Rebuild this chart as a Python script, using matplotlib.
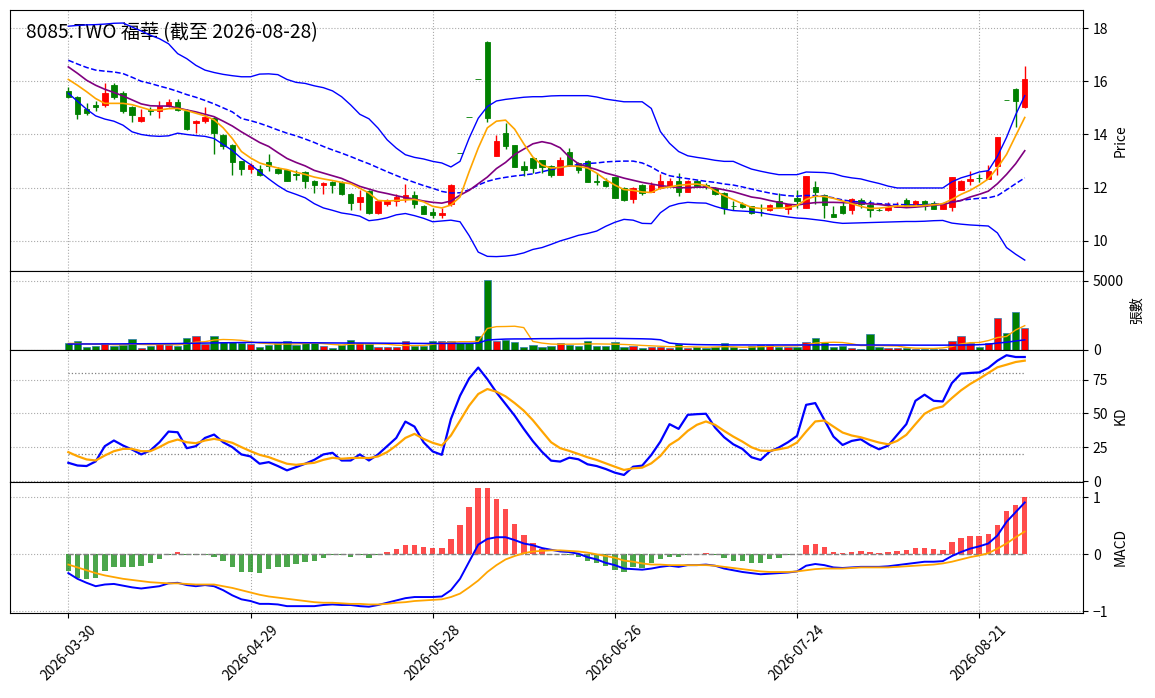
import numpy as np
import matplotlib
matplotlib.use("Agg")
import matplotlib.pyplot as plt

plt.rcParams['font.family'] = ['Noto Sans CJK TC', 'DejaVu Sans']

title = "8085.TWO 福華 (截至 2026-08-28)"
tick_pos = [0, 20, 40, 60, 80, 100]
tick_labels = ["2026-03-30", "2026-04-29", "2026-05-28", "2026-06-26", "2026-07-24", "2026-08-21"]

opens = [15.64, 15.41, 14.96, 15.12, 15.10, 15.87, 15.57, 15.03, 14.50, 14.92,
         14.90, 15.08, 15.23, 14.90, 14.45, 14.49, 14.61, 13.99, 13.61, 12.99,
         12.70, 12.69, 12.95, 12.72, 12.68, 12.50, 12.58, 12.27, 12.12, 12.21,
         12.21, 11.78, 11.47, 11.89, 11.06, 11.37, 11.49, 11.61, 11.74, 11.31,
         11.08, 10.99, 11.37, 13.31, 14.64, 16.10, 17.48, 13.21, 14.05, 13.59,
         12.80, 13.12, 13.03, 12.83, 12.49, 13.33, 12.93, 13.00, 12.24, 12.24,
         12.40, 11.99, 11.58, 12.12, 11.84, 12.00, 12.05, 12.27, 11.84, 12.24,
         12.12, 11.99, 11.81, 11.32, 11.40, 11.31, 11.09, 11.15, 11.50, 11.21,
         11.62, 11.24, 12.02, 11.74, 11.01, 11.31, 11.18, 11.52, 11.35, 11.17,
         11.16, 11.29, 11.53, 11.37, 11.50, 11.43, 11.21, 11.28, 11.93, 12.24,
         12.38, 12.33, 12.82, 15.29, 15.71, 15.02]
closes = [15.40, 14.77, 14.80, 15.02, 15.57, 15.40, 14.90, 14.72, 14.66, 14.88,
          15.07, 15.23, 14.91, 14.20, 14.52, 14.64, 14.05, 13.55, 12.97, 12.70,
          12.87, 12.49, 12.83, 12.55, 12.27, 12.48, 12.27, 12.12, 12.18, 12.12,
          11.77, 11.43, 11.64, 11.06, 11.49, 11.52, 11.64, 11.74, 11.37, 11.03,
          10.99, 11.06, 12.12, 13.31, 14.64, 16.10, 14.62, 13.76, 13.55, 12.78,
          12.65, 12.74, 12.78, 12.49, 13.03, 12.84, 12.68, 12.22, 12.22, 12.06,
          11.62, 11.52, 11.99, 11.80, 12.09, 12.27, 12.27, 11.84, 12.27, 12.05,
          12.05, 11.77, 11.25, 11.30, 11.28, 11.06, 11.07, 11.35, 11.28, 11.37,
          11.50, 12.43, 11.84, 11.34, 10.91, 11.06, 11.56, 11.37, 11.15, 11.15,
          11.27, 11.31, 11.32, 11.50, 11.31, 11.21, 11.37, 12.39, 12.27, 12.34,
          12.36, 12.64, 13.90, 15.29, 15.26, 16.08]
highs = [15.79, 15.45, 15.17, 15.26, 15.94, 15.93, 15.65, 15.08, 14.96, 15.05,
         15.25, 15.33, 15.33, 14.95, 14.55, 15.05, 14.66, 14.02, 13.65, 13.00,
         12.92, 12.87, 13.26, 12.78, 12.72, 12.68, 12.62, 12.30, 12.22, 12.24,
         12.25, 11.80, 11.93, 11.92, 11.52, 11.58, 11.77, 12.14, 11.86, 11.34,
         11.24, 11.24, 12.15, 13.31, 14.64, 16.10, 17.50, 13.99, 14.42, 13.62,
         13.01, 13.15, 13.06, 12.86, 13.16, 13.49, 12.96, 13.03, 12.55, 12.37,
         12.42, 12.01, 12.02, 12.14, 12.21, 12.52, 12.37, 12.55, 12.30, 12.30,
         12.18, 12.02, 11.84, 11.50, 11.47, 11.33, 11.37, 11.37, 11.81, 11.40,
         11.93, 12.45, 12.27, 11.76, 11.31, 11.50, 11.60, 11.60, 11.52, 11.25,
         11.47, 11.45, 11.60, 11.53, 11.52, 11.50, 11.39, 12.42, 12.30, 12.64,
         12.50, 12.84, 13.92, 15.29, 15.76, 16.58]
lows = [15.36, 14.59, 14.75, 14.90, 15.05, 15.35, 14.80, 14.48, 14.48, 14.74,
        14.62, 15.05, 14.88, 14.18, 14.05, 14.45, 13.28, 13.46, 12.49, 12.49,
        12.55, 12.45, 12.64, 12.50, 12.24, 12.30, 11.99, 11.80, 11.77, 11.80,
        11.74, 11.18, 11.18, 11.03, 11.03, 11.33, 11.30, 11.46, 11.25, 11.00,
        10.87, 10.87, 11.33, 13.31, 14.64, 16.10, 14.46, 13.19, 13.46, 12.76,
        12.43, 12.55, 12.55, 12.41, 12.47, 12.82, 12.55, 12.20, 12.09, 12.03,
        11.60, 11.50, 11.43, 11.71, 11.82, 11.97, 12.03, 11.68, 11.82, 12.03,
        11.95, 11.72, 11.03, 11.15, 11.25, 11.03, 10.93, 11.12, 11.25, 11.03,
        11.25, 11.22, 11.37, 10.87, 10.89, 11.03, 11.00, 11.25, 10.89, 11.11,
        11.14, 11.27, 11.30, 11.35, 11.15, 11.19, 11.19, 11.12, 11.91, 12.10,
        12.22, 12.31, 12.49, 15.29, 14.30, 15.00]
volume = [530, 625, 190, 265, 530, 265, 360, 770, 170, 265,
          410, 360, 265, 840, 985, 410, 985, 550, 575, 505,
          410, 240, 360, 480, 625, 360, 505, 505, 310, 170,
          360, 700, 505, 455, 215, 215, 215, 625, 265, 310,
          625, 625, 625, 505, 505, 1030, 5070, 673, 720, 600,
          215, 340, 220, 317, 537, 365, 317, 683, 317, 317,
          610, 244, 317, 170, 195, 244, 122, 440, 150, 195,
          120, 244, 537, 244, 100, 317, 365, 365, 244, 244,
          244, 561, 854, 610, 244, 317, 170, 73, 1171, 195,
          122, 122, 122, 73, 73, 73, 73, 659, 1025, 488,
          244, 488, 2318, 1220, 2782, 1586]
ma5 = [16.07, 15.85, 15.61, 15.35, 15.17, 15.17, 15.17, 15.12, 15.02, 14.92,
       14.92, 14.97, 14.98, 14.90, 14.80, 14.70, 14.55, 14.25, 13.85, 13.36,
       13.12, 12.93, 12.83, 12.74, 12.68, 12.58, 12.50, 12.40, 12.33, 12.27,
       12.20, 12.15, 11.98, 11.80, 11.52, 11.50, 11.52, 11.54, 11.56, 11.47,
       11.30, 11.24, 11.35, 11.65, 12.60, 13.49, 14.25, 14.50, 14.54, 14.20,
       13.65, 13.15, 12.85, 12.74, 12.76, 12.82, 12.80, 12.74, 12.55, 12.30,
       12.10, 11.93, 11.90, 11.84, 11.82, 11.98, 12.03, 12.09, 12.12, 12.14,
       12.08, 11.88, 11.70, 11.55, 11.40, 11.26, 11.22, 11.22, 11.23, 11.25,
       11.33, 11.56, 11.68, 11.67, 11.60, 11.50, 11.40, 11.30, 11.22, 11.23,
       11.27, 11.31, 11.31, 11.31, 11.33, 11.36, 11.40, 11.56, 11.75, 11.90,
       12.10, 12.33, 12.75, 13.25, 13.95, 14.64]
ma10 = [16.54, 16.30, 16.04, 15.85, 15.70, 15.58, 15.45, 15.30, 15.15, 15.08,
        15.07, 15.07, 15.00, 14.92, 14.85, 14.76, 14.67, 14.50, 14.32, 14.10,
        13.90, 13.70, 13.55, 13.32, 13.10, 12.95, 12.82, 12.65, 12.55, 12.45,
        12.35, 12.20, 12.05, 11.95, 11.85, 11.78, 11.70, 11.63, 11.57, 11.50,
        11.45, 11.42, 11.50, 11.72, 11.90, 12.15, 12.40, 12.72, 12.95, 13.25,
        13.45, 13.65, 13.73, 13.66, 13.50, 13.15, 12.90, 12.78, 12.68, 12.55,
        12.46, 12.36, 12.28, 12.20, 12.14, 12.08, 12.04, 12.00, 12.00, 12.02,
        12.02, 11.99, 11.92, 11.85, 11.75, 11.65, 11.60, 11.52, 11.45, 11.38,
        11.35, 11.40, 11.44, 11.45, 11.45, 11.44, 11.43, 11.41, 11.39, 11.37,
        11.33, 11.28, 11.25, 11.27, 11.30, 11.34, 11.37, 11.45, 11.52, 11.65,
        11.75, 11.87, 12.15, 12.50, 12.90, 13.39]
bb_mid = [16.79, 16.65, 16.52, 16.42, 16.38, 16.35, 16.29, 16.15, 16.00, 15.92,
          15.82, 15.73, 15.62, 15.50, 15.40, 15.28, 15.15, 15.00, 14.85, 14.60,
          14.52, 14.42, 14.30, 14.17, 14.05, 13.95, 13.83, 13.70, 13.55, 13.42,
          13.30, 13.17, 13.03, 12.90, 12.75, 12.60, 12.46, 12.32, 12.20, 12.08,
          11.98, 11.86, 11.80, 11.81, 11.92, 12.10, 12.24, 12.33, 12.39, 12.44,
          12.48, 12.52, 12.60, 12.68, 12.76, 12.82, 12.87, 12.91, 12.93, 12.97,
          12.99, 13.00, 13.00, 12.93, 12.78, 12.58, 12.45, 12.39, 12.34, 12.29,
          12.24, 12.20, 12.14, 12.10, 12.03, 11.95, 11.87, 11.80, 11.74, 11.70,
          11.68, 11.71, 11.70, 11.68, 11.62, 11.54, 11.49, 11.46, 11.43, 11.40,
          11.38, 11.37, 11.36, 11.35, 11.36, 11.38, 11.40, 11.46, 11.52, 11.57,
          11.60, 11.62, 11.70, 11.92, 12.15, 12.37]
bb_up = [18.07, 18.10, 18.12, 18.13, 18.15, 18.18, 18.19, 18.04, 17.89, 17.73,
         17.60, 17.41, 17.04, 16.85, 16.60, 16.42, 16.33, 16.26, 16.21, 16.17,
         16.17, 16.27, 16.28, 16.25, 16.07, 15.96, 15.92, 15.83, 15.76, 15.64,
         15.42, 15.11, 14.76, 14.59, 14.24, 13.80, 13.49, 13.24, 13.14, 13.08,
         12.99, 12.93, 12.78, 12.99, 13.86, 14.61, 15.05, 15.26, 15.32, 15.36,
         15.40, 15.42, 15.42, 15.45, 15.46, 15.46, 15.46, 15.46, 15.41, 15.33,
         15.28, 15.23, 15.23, 15.23, 14.98, 14.11, 13.67, 13.36, 13.20, 13.14,
         13.09, 13.03, 12.99, 12.99, 12.84, 12.70, 12.62, 12.55, 12.49, 12.49,
         12.49, 12.59, 12.58, 12.57, 12.53, 12.43, 12.37, 12.33, 12.24, 12.16,
         12.06, 11.99, 11.99, 11.99, 11.99, 11.99, 11.99, 12.22, 12.37, 12.47,
         12.59, 12.64, 13.18, 13.89, 14.74, 15.46]
bb_low = [15.55, 15.25, 14.95, 14.70, 14.58, 14.50, 14.35, 14.10, 14.00, 13.95,
          13.93, 13.95, 14.05, 14.00, 13.96, 13.93, 13.85, 13.62, 13.40, 13.10,
          12.87, 12.60, 12.33, 12.08, 11.87, 11.75, 11.62, 11.40, 11.24, 11.15,
          11.05, 11.00, 10.93, 10.76, 10.80, 10.87, 10.98, 11.03, 10.95, 10.85,
          10.72, 10.75, 10.78, 10.72, 10.20, 9.58, 9.42, 9.41, 9.43, 9.47,
          9.55, 9.68, 9.75, 9.87, 10.00, 10.10, 10.21, 10.28, 10.37, 10.55,
          10.70, 10.81, 10.78, 10.66, 10.65, 11.06, 11.30, 11.40, 11.45, 11.43,
          11.42, 11.30, 11.20, 11.14, 11.12, 11.10, 11.06, 11.00, 10.95, 10.90,
          10.86, 10.84, 10.80, 10.76, 10.70, 10.66, 10.67, 10.68, 10.69, 10.70,
          10.71, 10.72, 10.73, 10.73, 10.74, 10.76, 10.77, 10.67, 10.63, 10.60,
          10.58, 10.56, 10.30, 9.75, 9.50, 9.28]
vol_ma5 = [480, 470, 440, 420, 420, 380, 380, 430, 400, 380,
           400, 400, 370, 450, 560, 600, 720, 760, 740, 700,
           600, 500, 460, 420, 430, 440, 470, 500, 460, 400,
           360, 420, 440, 440, 440, 420, 350, 330, 320, 330,
           410, 490, 560, 600, 600, 620, 1560, 1690, 1700, 1720,
           1620, 620, 500, 430, 415, 420, 430, 440, 440, 430,
           420, 400, 370, 330, 300, 270, 240, 240, 230, 220,
           200, 220, 240, 230, 200, 210, 240, 260, 280, 290,
           300, 380, 500, 540, 560, 540, 450, 320, 330, 320,
           300, 290, 180, 130, 120, 110, 150, 250, 440, 530,
           540, 680, 900, 980, 1450, 1760]
vol_ma20 = [430, 430, 435, 435, 440, 440, 445, 450, 450, 455,
            455, 460, 465, 480, 490, 500, 510, 520, 530, 540,
            545, 545, 540, 540, 535, 530, 525, 520, 515, 510,
            505, 505, 505, 500, 495, 490, 485, 485, 480, 475,
            475, 475, 480, 480, 480, 500, 720, 760, 790, 800,
            800, 810, 820, 820, 830, 830, 830, 840, 840, 840,
            840, 830, 820, 810, 790, 740, 500, 440, 410, 390,
            380, 375, 370, 365, 365, 365, 365, 365, 365, 365,
            365, 365, 370, 370, 370, 370, 365, 360, 360, 360,
            360, 355, 355, 350, 350, 350, 350, 355, 360, 365,
            380, 420, 500, 560, 650, 732]
k_line = [13.5, 11.5, 11.1, 14.5, 25.8, 30.0, 26.3, 23.3, 19.7, 22.6,
          28.7, 36.6, 36.1, 24.3, 25.8, 31.9, 34.4, 28.7, 25.1, 19.7,
          18.2, 12.8, 14.0, 11.1, 7.9, 10.3, 12.8, 15.7, 19.7, 20.9,
          15.2, 15.2, 19.7, 15.2, 19.7, 25.8, 31.9, 44.0, 40.3, 28.7,
          21.9, 19.4, 45.9, 63.1, 75.9, 84.0, 75.4, 65.6, 57.0, 48.4,
          38.6, 29.5, 21.6, 15.1, 14.4, 17.3, 16.1, 12.4, 11.1, 8.9,
          6.2, 4.5, 10.6, 11.4, 19.3, 29.2, 42.1, 38.6, 49.0, 49.5,
          49.8, 39.6, 32.4, 27.2, 23.8, 17.6, 15.6, 21.8, 24.8, 28.7,
          33.4, 56.4, 57.7, 45.3, 32.9, 26.7, 29.7, 30.9, 26.7, 23.5,
          26.2, 34.2, 42.1, 59.4, 63.9, 59.4, 58.9, 72.5, 79.5, 80.0,
          80.4, 83.7, 89.1, 93.1, 91.8, 91.8]
d_line = [21.4, 18.4, 16.0, 15.2, 18.9, 22.1, 23.8, 23.8, 22.1, 22.1,
          25.1, 28.7, 30.7, 28.7, 28.0, 30.0, 31.2, 30.0, 28.3, 25.1,
          22.1, 19.4, 17.7, 15.2, 12.8, 12.0, 12.8, 13.5, 15.7, 17.2,
          16.5, 17.0, 17.2, 17.0, 18.2, 21.4, 26.3, 31.9, 34.9, 31.2,
          28.3, 26.3, 33.7, 44.7, 55.8, 64.4, 68.1, 66.1, 62.7, 57.7,
          52.1, 45.0, 36.8, 28.7, 24.3, 22.3, 20.0, 17.6, 15.6, 13.1,
          10.6, 8.2, 9.4, 9.9, 13.1, 18.6, 26.7, 30.9, 37.1, 41.6,
          44.1, 41.6, 37.1, 32.9, 29.2, 25.0, 22.5, 22.3, 23.5, 24.8,
          28.5, 36.6, 44.1, 44.8, 40.3, 35.9, 33.7, 32.4, 30.4, 28.5,
          27.2, 29.7, 34.2, 42.1, 49.8, 53.5, 55.2, 61.4, 67.1, 71.8,
          75.7, 80.0, 84.2, 86.1, 88.1, 89.1]
dif = [-0.33, -0.43, -0.50, -0.56, -0.53, -0.52, -0.55, -0.58, -0.60, -0.58,
       -0.56, -0.51, -0.50, -0.54, -0.56, -0.54, -0.56, -0.63, -0.72, -0.79,
       -0.82, -0.87, -0.87, -0.88, -0.91, -0.91, -0.91, -0.91, -0.89, -0.88,
       -0.89, -0.89, -0.91, -0.92, -0.89, -0.85, -0.81, -0.77, -0.75, -0.75,
       -0.75, -0.74, -0.63, -0.43, -0.13, 0.17, 0.27, 0.30, 0.30, 0.25,
       0.19, 0.16, 0.11, 0.08, 0.05, 0.04, 0.01, -0.05, -0.09, -0.15,
       -0.19, -0.25, -0.26, -0.27, -0.25, -0.22, -0.20, -0.22, -0.19, -0.19,
       -0.18, -0.20, -0.25, -0.28, -0.31, -0.33, -0.35, -0.34, -0.33, -0.32,
       -0.30, -0.20, -0.17, -0.19, -0.23, -0.24, -0.23, -0.22, -0.22, -0.22,
       -0.21, -0.19, -0.17, -0.15, -0.13, -0.13, -0.12, -0.03, 0.04, 0.10,
       0.14, 0.19, 0.33, 0.57, 0.74, 0.91]
dea = [-0.18, -0.23, -0.28, -0.33, -0.37, -0.40, -0.43, -0.45, -0.47, -0.49,
       -0.50, -0.51, -0.51, -0.52, -0.53, -0.53, -0.53, -0.56, -0.59, -0.63,
       -0.67, -0.71, -0.74, -0.76, -0.78, -0.80, -0.82, -0.84, -0.85, -0.85,
       -0.86, -0.87, -0.87, -0.88, -0.88, -0.87, -0.85, -0.84, -0.82, -0.81,
       -0.80, -0.79, -0.75, -0.69, -0.58, -0.46, -0.31, -0.19, -0.09, -0.03,
       0.02, 0.05, 0.06, 0.07, 0.07, 0.06, 0.05, 0.03, 0.00, -0.03,
       -0.06, -0.11, -0.13, -0.16, -0.18, -0.18, -0.19, -0.19, -0.19, -0.19,
       -0.19, -0.20, -0.22, -0.24, -0.26, -0.28, -0.30, -0.31, -0.31, -0.31,
       -0.30, -0.28, -0.26, -0.25, -0.25, -0.25, -0.24, -0.23, -0.23, -0.23,
       -0.23, -0.22, -0.21, -0.20, -0.19, -0.18, -0.16, -0.13, -0.09, -0.05,
       -0.02, 0.02, 0.10, 0.19, 0.30, 0.40]
macd_hist = [-0.29, -0.41, -0.44, -0.41, -0.29, -0.22, -0.22, -0.22, -0.20, -0.15,
             -0.08, -0.005, 0.035, -0.02, -0.02, -0.005, -0.04, -0.12, -0.22, -0.31,
             -0.31, -0.33, -0.26, -0.22, -0.22, -0.17, -0.13, -0.11, -0.06, -0.02,
             -0.02, -0.04, -0.02, -0.06, -0.01, 0.04, 0.09, 0.16, 0.16, 0.13,
             0.11, 0.11, 0.27, 0.51, 0.83, 1.16, 1.16, 0.97, 0.80, 0.53,
             0.34, 0.20, 0.10, 0.01, 0.005, -0.01, -0.04, -0.12, -0.16, -0.20,
             -0.27, -0.31, -0.23, -0.24, -0.16, -0.09, -0.05, -0.05, -0.005, 0.005,
             0.02, -0.005, -0.06, -0.12, -0.12, -0.15, -0.15, -0.09, -0.06, -0.02,
             0.005, 0.17, 0.18, 0.13, 0.04, 0.03, 0.04, 0.06, 0.04, 0.02,
             0.035, 0.06, 0.08, 0.11, 0.11, 0.09, 0.08, 0.22, 0.29, 0.32,
             0.32, 0.36, 0.52, 0.76, 0.86, 1.00]

n = len(closes)
x = np.arange(n)
o = np.array(opens); c = np.array(closes)
hi = np.array(highs); lo = np.array(lows)
up = c > o
cols = np.where(up, 'red', 'green')

fig = plt.figure(figsize=(11.55, 6.98), dpi=100)
gs = fig.add_gridspec(4, 1, height_ratios=[261, 79, 132, 131],
                      left=0.0087, right=0.9377, top=0.9857, bottom=0.1218, hspace=0)
ax1 = fig.add_subplot(gs[0])
ax2 = fig.add_subplot(gs[1], sharex=ax1)
ax3 = fig.add_subplot(gs[2], sharex=ax1)
ax4 = fig.add_subplot(gs[3], sharex=ax1)

grid_kw = dict(linestyle=':', color='#aaaaaa', linewidth=0.8)

# Price panel
ax1.vlines(x, lo, hi, colors=cols, linewidth=1.0, zorder=2)
ax1.bar(x, np.abs(c - o), bottom=np.minimum(o, c), width=0.6,
        color=cols, edgecolor=cols, linewidth=0.6, zorder=3)
ax1.plot(x, bb_up, color='blue', linewidth=1.0, zorder=4)
ax1.plot(x, bb_low, color='blue', linewidth=1.0, zorder=4)
ax1.plot(x, bb_mid, color='blue', linewidth=1.1, linestyle='--', zorder=4)
ax1.plot(x, ma10, color='purple', linewidth=1.2, zorder=4)
ax1.plot(x, ma5, color='orange', linewidth=1.2, zorder=4)
ax1.set_ylim(8.87, 18.68)
ax1.set_yticks([10, 12, 14, 16, 18])
ax1.set_ylabel('Price')
ax1.text(0.015, 0.955, title, transform=ax1.transAxes, fontsize=13.8, va='top', ha='left')

# Volume panel
ax2.bar(x, volume, width=0.8, color=cols, edgecolor='#2a7ab0', linewidth=0.5, zorder=2)
ax2.plot(x, vol_ma5, color='orange', linewidth=1.0, zorder=3)
ax2.plot(x, vol_ma20, color='blue', linewidth=1.1, zorder=3)
ax2.set_ylim(0, 5720)
ax2.set_yticks([0, 5000])
ax2.set_ylabel('張數')

# KD panel
ax3.plot(x, k_line, color='blue', linewidth=1.6, zorder=3)
ax3.plot(x, d_line, color='orange', linewidth=1.6, zorder=3)
ax3.hlines([80, 20], 0, n - 1, colors='gray', linestyles=':', linewidth=0.9, zorder=2)
ax3.set_ylim(-0.7, 97)
ax3.set_yticks([0, 25, 50, 75])
ax3.set_ylabel('KD')

# MACD panel
hcols = np.where(np.array(macd_hist) >= 0, 'red', 'green')
ax4.bar(x, macd_hist, width=0.6, color=hcols, alpha=0.7, zorder=2)
ax4.hlines(0, 0, n - 1, colors='gray', linestyles='--', linewidth=1.0, zorder=2)
ax4.plot(x, dif, color='blue', linewidth=1.4, zorder=3)
ax4.plot(x, dea, color='orange', linewidth=1.3, zorder=3)
ax4.set_ylim(-1.03, 1.27)
ax4.set_yticks([-1, 0, 1])
ax4.set_ylabel('MACD')

for ax in (ax1, ax2, ax3, ax4):
    ax.yaxis.tick_right()
    ax.yaxis.set_label_position('right')
    ax.grid(True, **grid_kw)
    ax.set_axisbelow(True)
    ax.tick_params(axis='x', labelbottom=False)

ax1.set_xlim(-6.4, 111.4)
ax4.set_xticks(tick_pos)
ax4.set_xticklabels(tick_labels)
ax4.tick_params(axis='x', labelbottom=True)
plt.setp(ax4.get_xticklabels(), rotation=45, ha='center')

fig.savefig('out.png', dpi=100)
